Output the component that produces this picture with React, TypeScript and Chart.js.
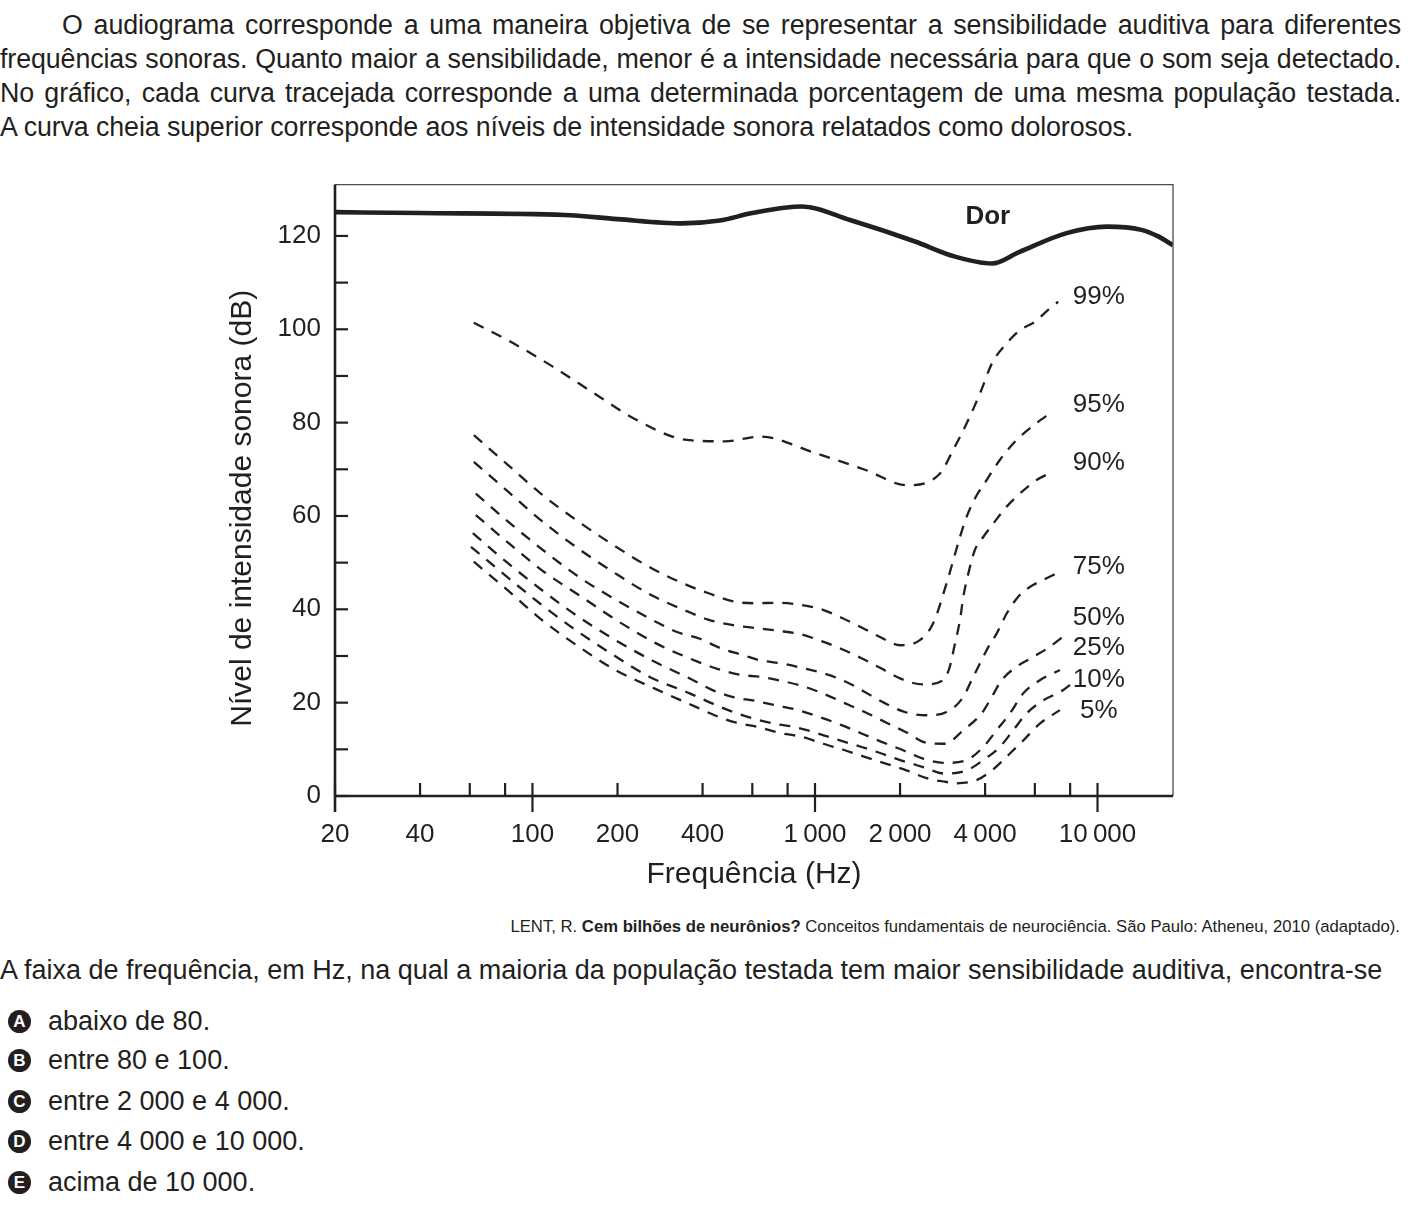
import React, { useEffect, useRef } from 'react';
import { Chart, registerables } from 'chart.js';

Chart.register(...registerables);

const FONT = "'Liberation Sans', Arial, Helvetica, sans-serif";
const INK = '#231f20';

// ---------- data (frequency in Hz, level in dB) ----------
const painFreq = [20, 40, 130, 200, 340, 460, 600, 900, 1330, 2260, 3080, 4230, 5300, 7770, 10800, 14300, 16400, 18500];
const painDb = [125.1, 124.9, 124.5, 123.6, 122.7, 123.3, 124.9, 126.3, 123.4, 118.8, 115.7, 114.1, 116.6, 120.6, 122.0, 121.3, 119.9, 118.0];

const p99Freq = [62, 85, 118, 173, 233, 351, 480, 640, 1010, 1520, 2110, 2770, 3080, 3440, 3840, 4230, 4770, 5310, 6000, 6780, 7260];
const p99Db = [101.4, 97.1, 92.0, 85.5, 80.6, 76.3, 76.0, 77.0, 73.4, 69.8, 66.6, 69.1, 74.1, 79.8, 86.3, 92.7, 97.0, 99.8, 101.6, 104.5, 105.9];

const p95Freq = [62, 82, 107, 143, 193, 264, 365, 418, 513, 612, 730, 883, 1054, 1241, 1462, 1720, 2000, 2350, 2620, 2920, 3260, 3440, 3685, 4050, 4510, 5100, 5850, 6970];
const p95Db = [77.3, 70.9, 64.8, 59.1, 53.8, 48.8, 44.8, 43.5, 41.7, 41.3, 41.4, 41.0, 40.0, 38.2, 36.1, 33.9, 32.3, 33.4, 37.0, 45.5, 55.5, 59.8, 63.8, 67.7, 72.0, 75.9, 79.1, 82.5];

const p90Freq = [62, 82, 107, 143, 193, 264, 365, 418, 513, 612, 740, 883, 1054, 1241, 1462, 1720, 2000, 2410, 2840, 3000, 3130, 3260, 3350, 3490, 3680, 3940, 4280, 4770, 5310, 6090, 6970];
const p90Db = [71.6, 65.2, 59.1, 53.3, 48.0, 43.0, 39.2, 37.8, 36.6, 36.0, 35.4, 34.7, 33.2, 31.5, 29.5, 27.3, 25.2, 23.9, 24.8, 27.7, 32.7, 37.7, 42.7, 47.7, 52.7, 55.5, 58.4, 62.0, 64.8, 67.7, 69.5];

const p75Freq = [63, 83, 110, 147, 198, 274, 323, 391, 466, 556, 637, 760, 907, 1083, 1275, 1500, 1766, 2080, 2483, 2923, 3348, 3582, 3835, 4104, 4395, 4770, 5241, 5767, 6427, 7167];
const p75Db = [64.8, 58.5, 52.5, 46.8, 42.0, 37.3, 35.2, 33.7, 31.6, 30.2, 29.1, 28.4, 27.4, 26.2, 24.6, 22.3, 19.9, 18.0, 17.3, 18.0, 21.2, 24.8, 28.4, 31.9, 34.8, 39.1, 42.7, 44.8, 46.3, 47.7];

const p50Freq = [63, 83, 110, 149, 198, 274, 380, 454, 541, 646, 771, 920, 1083, 1275, 1500, 1791, 2110, 2483, 2883, 3348, 3890, 4220, 4577, 5173, 5926, 6786, 7777];
const p50Db = [60.2, 54.0, 48.0, 42.7, 37.7, 32.7, 28.9, 27.2, 26.0, 25.5, 24.6, 23.4, 21.8, 19.9, 18.0, 15.7, 13.6, 11.4, 11.2, 14.1, 17.7, 21.2, 24.8, 27.7, 29.8, 32.0, 34.8];

const p25Freq = [61.5, 80.7, 107, 143, 193, 264, 365, 430, 513, 612, 730, 871, 1040, 1241, 1462, 1720, 2050, 2413, 2883, 3440, 3940, 4395, 4897, 5460, 6250, 7360];
const p25Db = [56.3, 50.2, 44.3, 38.7, 33.7, 29.1, 25.0, 22.8, 21.2, 20.4, 19.4, 18.4, 16.9, 15.2, 13.4, 11.6, 9.8, 8.0, 7.1, 7.7, 10.5, 14.1, 17.7, 22.0, 24.8, 27.0];

const p10Freq = [60.6, 80.7, 106, 141, 190, 260, 360, 430, 513, 604, 720, 859, 1025, 1224, 1462, 1720, 2000, 2413, 2883, 3440, 3940, 4510, 5033, 5611, 6427, 7565, 7990];
const p10Db = [53.4, 47.1, 41.3, 35.7, 30.5, 25.5, 22.0, 19.9, 18.0, 16.6, 15.5, 14.7, 13.4, 11.9, 10.5, 9.1, 7.7, 6.2, 4.8, 5.5, 7.7, 10.5, 14.1, 17.7, 20.5, 22.7, 23.8];

const p5Freq = [62, 82, 107, 145, 195, 271, 375, 441, 527, 629, 750, 895, 1069, 1275, 1500, 1791, 2110, 2517, 2923, 3080, 3730, 4230, 4897, 5460, 6250, 7360];
const p5Db = [50.2, 44.0, 37.9, 32.1, 27.1, 23.0, 19.2, 17.3, 15.7, 14.8, 13.5, 12.7, 11.2, 9.8, 8.4, 6.9, 5.5, 3.7, 3.0, 2.7, 3.4, 5.5, 9.1, 11.9, 15.5, 18.4];

const curveNames = ['99%', '95%', '90%', '75%', '50%', '25%', '10%', '5%'];
const curveLabelFreq = 10100;
const curveLabelDb = [106.9, 83.8, 71.4, 49.1, 38.1, 31.7, 24.8, 18.2];
const painLabel = 'Dor';
const painLabelFreq = 4090;
const painLabelDb = 124.1;

// ---------- axes ----------
const xTickMarks = [20, 40, 60, 80, 100, 200, 400, 600, 800, 1000, 2000, 4000, 6000, 8000, 10000];
const xMajorTicks = [100, 1000, 10000];
const xLabelValues = [20, 40, 100, 200, 400, 1000, 2000, 4000, 10000];
const xLabelTexts = ['20', '40', '100', '200', '400', '1\u2009000', '2\u2009000', '4\u2009000', '10\u2009000'];
const yTickMarks = [0, 10, 20, 30, 40, 50, 60, 70, 80, 90, 100, 110, 120];
const yLabelValues = [0, 20, 40, 60, 80, 100, 120];
const xTitle = 'Frequência (Hz)';
const yTitle = 'Nível de intensidade sonora (dB)';

// ---------- page text ----------
const introLines = [
  'O audiograma corresponde a uma maneira objetiva de se representar a sensibilidade auditiva para diferentes',
  'frequências sonoras. Quanto maior a sensibilidade, menor é a intensidade necessária para que o som seja detectado.',
  'No gráfico, cada curva tracejada corresponde a uma determinada porcentagem de uma mesma população testada.',
  'A curva cheia superior corresponde aos níveis de intensidade sonora relatados como dolorosos.',
];
const question = 'A faixa de frequência, em Hz, na qual a maioria da população testada tem maior sensibilidade auditiva, encontra-se';
const optionLetters = ['A', 'B', 'C', 'D', 'E'];
const optionTexts = ['abaixo de 80.', 'entre 80 e 100.', 'entre 2\u00a0000 e 4\u00a0000.', 'entre 4\u00a0000 e 10\u00a0000.', 'acima de 10\u00a0000.'];

const zip = (fs: number[], ds: number[]) => fs.map((f, i) => ({ x: f, y: ds[i] }));

const dashedSeries = [
  [p99Freq, p99Db],
  [p95Freq, p95Db],
  [p90Freq, p90Db],
  [p75Freq, p75Db],
  [p50Freq, p50Db],
  [p25Freq, p25Db],
  [p10Freq, p10Db],
  [p5Freq, p5Db],
];

const overlayPlugin = {
  id: 'audiogramOverlay',
  afterDraw(chart: any) {
    const { ctx, chartArea: a, scales } = chart;
    const x = scales.x;
    const y = scales.y;
    ctx.save();
    ctx.lineCap = 'butt';
    // thin top and right frame
    ctx.strokeStyle = '#4d4d4d';
    ctx.lineWidth = 1.3;
    ctx.beginPath();
    ctx.moveTo(a.left, a.top);
    ctx.lineTo(a.right, a.top);
    ctx.lineTo(a.right, a.bottom);
    ctx.stroke();
    // thick axes
    ctx.strokeStyle = INK;
    ctx.lineWidth = 2.6;
    ctx.beginPath();
    ctx.moveTo(a.left, a.top);
    ctx.lineTo(a.left, a.bottom + 16);
    ctx.moveTo(a.left, a.bottom);
    ctx.lineTo(a.right, a.bottom);
    ctx.stroke();
    // tick marks (drawn inward)
    ctx.lineWidth = 2.2;
    yTickMarks.forEach((v) => {
      const py = y.getPixelForValue(v);
      ctx.beginPath();
      ctx.moveTo(a.left, py);
      ctx.lineTo(a.left + 13, py);
      ctx.stroke();
    });
    xTickMarks.forEach((v) => {
      const px = x.getPixelForValue(v);
      const major = xMajorTicks.includes(v);
      ctx.beginPath();
      ctx.moveTo(px, a.bottom - 13);
      ctx.lineTo(px, major ? a.bottom + 16 : a.bottom);
      ctx.stroke();
    });
    // y title
    ctx.fillStyle = INK;
    ctx.save();
    ctx.translate(a.left - 92, (a.top + a.bottom) / 2 + 18);
    ctx.rotate(-Math.PI / 2);
    ctx.textAlign = 'center';
    ctx.textBaseline = 'middle';
    ctx.font = `30px ${FONT}`;
    ctx.fillText(yTitle, 0, 0);
    ctx.restore();
    // curve labels
    ctx.textAlign = 'center';
    ctx.textBaseline = 'middle';
    ctx.font = `bold 26px ${FONT}`;
    ctx.fillText(painLabel, x.getPixelForValue(painLabelFreq), y.getPixelForValue(painLabelDb));
    ctx.font = `26px ${FONT}`;
    curveNames.forEach((n, i) => {
      ctx.fillText(n, x.getPixelForValue(curveLabelFreq), y.getPixelForValue(curveLabelDb[i]));
    });
    ctx.restore();
  },
};

function AudiogramChart() {
  const ref = useRef<HTMLCanvasElement>(null);
  useEffect(() => {
    if (!ref.current) return;
    const datasets: any[] = [
      {
        data: zip(painFreq, painDb),
        borderColor: INK,
        borderWidth: 4.6,
        pointRadius: 0,
        fill: false,
        tension: 0.4,
        cubicInterpolationMode: 'monotone',
      },
      ...dashedSeries.map(([f, d]) => ({
        data: zip(f, d),
        borderColor: INK,
        borderWidth: 2.3,
        borderDash: [11, 9],
        pointRadius: 0,
        fill: false,
        tension: 0.4,
        cubicInterpolationMode: 'monotone',
      })),
    ];
    const chart = new Chart(ref.current, {
      type: 'line',
      data: { datasets },
      options: {
        responsive: false,
        animation: false,
        devicePixelRatio: 1,
        layout: { padding: { left: 0, top: 0, right: 27, bottom: 0 } },
        plugins: { legend: { display: false }, tooltip: { enabled: false } },
        scales: {
          x: {
            type: 'logarithmic',
            min: 20,
            max: 18500,
            afterFit: (s: any) => { s.height = 114; },
            afterBuildTicks: (s: any) => { s.ticks = xLabelValues.map((v) => ({ value: v })); },
            grid: { display: false, drawTicks: false },
            border: { display: false },
            ticks: {
              autoSkip: false,
              maxRotation: 0,
              minRotation: 0,
              padding: 23,
              color: INK,
              font: { size: 26, family: FONT },
              callback: (v: any) => {
                const i = xLabelValues.indexOf(Number(v));
                return i >= 0 ? xLabelTexts[i] : '';
              },
            },
            title: {
              display: true,
              text: xTitle,
              color: INK,
              font: { size: 30, family: FONT },
              padding: { top: 0, bottom: 17 },
            },
          },
          y: {
            type: 'linear',
            min: 0,
            max: 131,
            afterFit: (s: any) => { s.width = 135; },
            afterBuildTicks: (s: any) => { s.ticks = yLabelValues.map((v) => ({ value: v })); },
            grid: { display: false, drawTicks: false },
            border: { display: false },
            ticks: {
              padding: 14,
              color: INK,
              font: { size: 26, family: FONT },
              callback: (v: any) => String(v),
            },
          },
        },
      } as any,
      plugins: [overlayPlugin],
    });
    return () => chart.destroy();
  }, []);
  return (
    <canvas
      ref={ref}
      width={1000}
      height={755}
      style={{ position: 'absolute', left: 200, top: 155, width: 1000, height: 755 }}
    />
  );
}

export default function App() {
  return (
    <div
      style={{
        position: 'absolute',
        left: 0,
        top: 0,
        width: 1410,
        height: 1209,
        background: '#fff',
        color: INK,
        fontFamily: FONT,
        overflow: 'hidden',
      }}
    >
      {introLines.map((line, i) => {
        const left = i === 0 ? 62 : 0;
        return (
          <div
            key={i}
            style={{
              position: 'absolute',
              left,
              top: 7.5 + i * 34.3,
              width: 1401 - left,
              fontSize: 26.8,
              letterSpacing: -0.1,
              lineHeight: '34.3px',
              textAlign: i < 3 ? 'justify' : 'left',
              textAlignLast: i < 3 ? 'justify' : 'left',
            } as any}
          >
            {line}
          </div>
        );
      })}
      <AudiogramChart />
      <div
        style={{
          position: 'absolute',
          right: 10,
          top: 917,
          fontSize: 16.7,
          lineHeight: '20px',
          whiteSpace: 'nowrap',
        }}
      >
        LENT, R. <b>Cem bilhões de neurônios?</b> Conceitos fundamentais de neurociência. São Paulo: Atheneu, 2010 (adaptado).
      </div>
      <div
        style={{
          position: 'absolute',
          left: 0,
          top: 953,
          fontSize: 27,
          lineHeight: '34px',
          whiteSpace: 'nowrap',
        }}
      >
        {question}
      </div>
      {optionLetters.map((l, i) => {
        const centers = [1021, 1060, 1101, 1141, 1182];
        const c = centers[i];
        return (
          <React.Fragment key={l}>
            <div
              style={{
                position: 'absolute',
                left: 8,
                top: c - 11.5,
                width: 23,
                height: 23,
                borderRadius: '50%',
                background: INK,
                color: '#fff',
                fontWeight: 'bold',
                fontSize: 17,
                lineHeight: '23px',
                textAlign: 'center',
              }}
            >
              {l}
            </div>
            <div
              style={{
                position: 'absolute',
                left: 48,
                top: c - 17,
                fontSize: 27,
                lineHeight: '34px',
                whiteSpace: 'nowrap',
              }}
            >
              {optionTexts[i]}
            </div>
          </React.Fragment>
        );
      })}
    </div>
  );
}
